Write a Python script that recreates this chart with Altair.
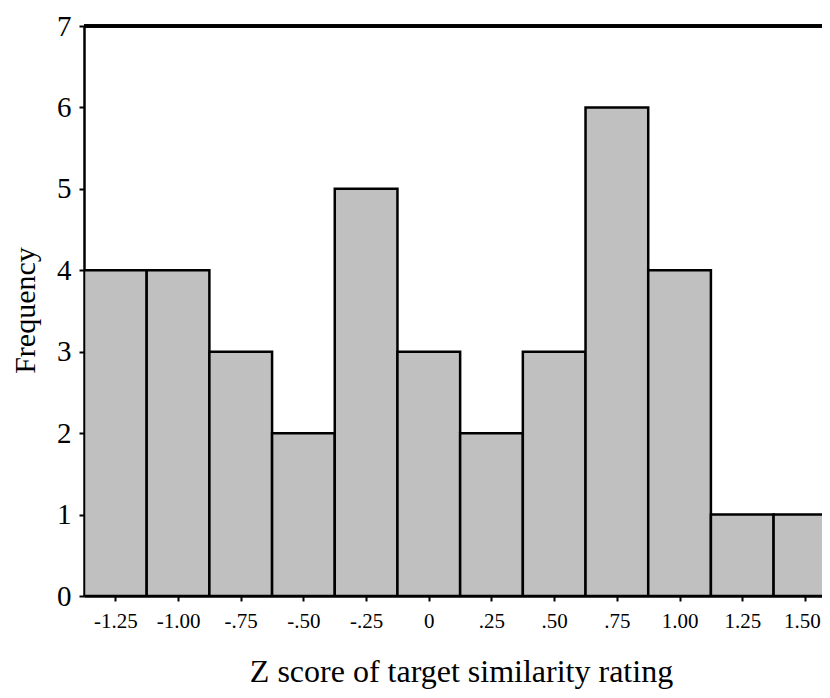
import altair as alt
import pandas as pd

bin_centers = [-1.25, -1.00, -0.75, -0.50, -0.25, 0.0, 0.25, 0.50, 0.75, 1.00, 1.25, 1.50]
counts = [4, 4, 3, 2, 5, 3, 2, 3, 6, 4, 1, 1]
tick_labels = ["-1.25", "-1.00", "-.75", "-.50", "-.25", "0", ".25", ".50", ".75", "1.00", "1.25", "1.50"]
bin_width = 0.25
y_ticks = [0, 1, 2, 3, 4, 5, 6, 7]

df = pd.DataFrame({
    "start": [c - bin_width / 2 for c in bin_centers],
    "end": [c + bin_width / 2 for c in bin_centers],
    "count": counts,
})

FONT = "Liberation Serif"
vals_js = "[" + ",".join(str(v) for v in bin_centers) + "]"
labs_js = "[" + ",".join("'" + s + "'" for s in tick_labels) + "]"
label_expr = f"{labs_js}[indexof({vals_js}, datum.value)]"

xscale = alt.Scale(domain=[-1.375, 1.568], nice=False, zero=False)
yscale = alt.Scale(domain=[0, 7], nice=False)

bars = alt.Chart(df).mark_bar(
    color="#c0c0c0", stroke="black", strokeWidth=2.5, clip=True
).encode(
    x=alt.X("start:Q", scale=xscale, axis=alt.Axis(
        values=bin_centers, labelExpr=label_expr, grid=False,
        title="Z score of target similarity rating",
        titleFont=FONT, titleFontSize=32, titleFontWeight="normal",
        titleColor="black", titleX=377, titleY=85, titleBaseline="alphabetic",
        titleAlign="center", titleAnchor="start",
        labelFont=FONT, labelFontSize=21, labelColor="black", labelPadding=9,
        labelOffset={"condition": {"test": "datum.value > 1.4", "value": -3}, "value": 0},
        tickSize=5, tickWidth=2, tickColor="black",
        domainColor="black", domainWidth=2.5, labelOverlap=False,
    )),
    x2="end:Q",
    y=alt.Y("count:Q", scale=yscale, axis=alt.Axis(
        values=y_ticks, format="d", grid=False, title="Frequency",
        titleFont=FONT, titleFontSize=30, titleFontWeight="normal",
        titleColor="black", titleX=-50, titleY=284, titleBaseline="alphabetic",
        titleAlign="center", titleAngle=-90,
        labelFont=FONT, labelFontSize=29, labelColor="black", labelPadding=8,
        tickSize=5, tickWidth=2, tickColor="black",
        domainColor="black", domainWidth=2.5,
    )),
    y2=alt.datum(0),
)

top_line = alt.Chart(df).mark_rule(color="black", strokeWidth=2.5).encode(
    y=alt.datum(7, scale=yscale)
)

chart = alt.layer(bars, top_line).properties(
    width=738, height=570,
    autosize=alt.AutoSizeParams(type="none"),
    padding={"left": 76, "top": 18, "right": 0, "bottom": 94},
).configure_view(strokeWidth=0).configure(background="white")

chart.save("out.html", embed_options={"renderer": "svg", "actions": False})
